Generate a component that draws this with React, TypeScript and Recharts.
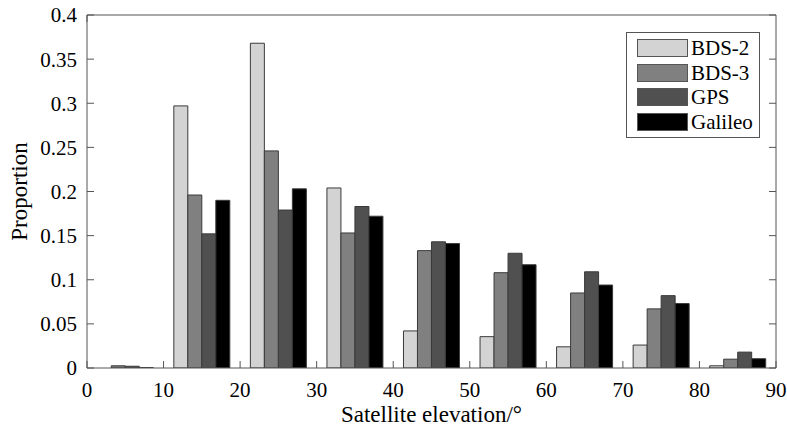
import { BarChart, Bar, XAxis, YAxis, Legend, Label } from 'recharts'

// 仰角区間の中心 (°)
const elevations = [5, 15, 25, 35, 45, 55, 65, 75, 85]

// 各システムの割合
const bds2 = [0, 0.297, 0.368, 0.204, 0.042, 0.0355, 0.024, 0.026, 0.0025]
const bds3 = [0.0025, 0.196, 0.246, 0.153, 0.133, 0.108, 0.085, 0.067, 0.01]
const gps = [0.002, 0.152, 0.179, 0.183, 0.143, 0.13, 0.109, 0.082, 0.018]
const galileo = [0.0005, 0.19, 0.203, 0.172, 0.141, 0.117, 0.094, 0.073, 0.0105]

const xTicks = [0, 10, 20, 30, 40, 50, 60, 70, 80, 90]
const yTicks = [0, 0.05, 0.1, 0.15, 0.2, 0.25, 0.3, 0.35, 0.4]

const SERIES = [
  { key: 'BDS-2', values: bds2, color: '#d3d3d3' },
  { key: 'BDS-3', values: bds3, color: '#808080' },
  { key: 'GPS', values: gps, color: '#505050' },
  { key: 'Galileo', values: galileo, color: '#000000' },
]

const FONT = 'Liberation Serif'
const AXIS_COLOR = '#555'

const chartData = elevations.map((e, i) => {
  const row: Record<string, number> = { elevation: e }
  SERIES.forEach((s) => {
    row[s.key] = s.values[i]
  })
  return row
})

// 目盛り線だけ描く（ラベルなし）
const NoLabel = () => <g />

function LegendBox() {
  return (
    <div
      style={{
        border: `1px solid ${AXIS_COLOR}`,
        background: '#fff',
        padding: '3px 6px 3px 10px',
        fontFamily: FONT,
        fontSize: 21,
        color: '#000',
        lineHeight: '24.5px',
      }}
    >
      {SERIES.map((s) => (
        <div key={s.key} style={{ display: 'flex', alignItems: 'center', height: 24.5 }}>
          <span
            style={{
              display: 'inline-block',
              width: 49,
              height: 16,
              background: s.color,
              border: '1px solid #555',
              marginRight: 3,
            }}
          />
          <span>{s.key}</span>
        </div>
      ))}
    </div>
  )
}

export default function App() {
  return (
    <div style={{ position: 'absolute', left: 0, top: 0, background: '#fff' }}>
      <BarChart
        width={787}
        height={430}
        data={chartData}
        margin={{ top: 14, right: 10, bottom: 0, left: 0 }}
        barCategoryGap="13.4%"
        barGap={0}
      >
        <XAxis
          dataKey="elevation"
          type="number"
          domain={[0, 90]}
          ticks={xTicks}
          height={62}
          stroke={AXIS_COLOR}
          tickSize={-7}
          tickMargin={21}
          tick={{ fill: '#000', fontSize: 21, fontFamily: FONT }}
          allowDataOverflow
        >
          <Label
            value="Satellite elevation/°"
            position="insideBottom"
            offset={8}
            style={{ fill: '#000', fontSize: 23, fontFamily: FONT }}
          />
        </XAxis>
        <XAxis
          xAxisId="top"
          orientation="top"
          type="number"
          domain={[0, 90]}
          ticks={xTicks}
          height={1}
          stroke={AXIS_COLOR}
          tickSize={-7}
          tick={NoLabel}
          allowDataOverflow
        />
        <YAxis
          type="number"
          domain={[0, 0.4]}
          ticks={yTicks}
          width={87}
          stroke={AXIS_COLOR}
          tickSize={-7}
          tickMargin={17}
          tick={{ fill: '#000', fontSize: 21, fontFamily: FONT }}
          allowDataOverflow
        >
          <Label
            value="Proportion"
            angle={-90}
            position="center"
            dx={-25}
            style={{ fill: '#000', fontSize: 23, fontFamily: FONT, textAnchor: 'middle' }}
          />
        </YAxis>
        <YAxis
          yAxisId="right"
          orientation="right"
          type="number"
          domain={[0, 0.4]}
          ticks={yTicks}
          width={1}
          stroke={AXIS_COLOR}
          tickSize={-7}
          tick={NoLabel}
          allowDataOverflow
        />
        <Legend
          layout="vertical"
          align="center"
          verticalAlign="middle"
          content={() => <LegendBox />}
          wrapperStyle={{ position: 'absolute', left: 626, top: 32, width: 'auto' }}
        />
        {SERIES.map((s) => (
          <Bar
            key={s.key}
            dataKey={s.key}
            fill={s.color}
            stroke="#3a3a3a"
            strokeWidth={1}
            isAnimationActive={false}
          />
        ))}
      </BarChart>
    </div>
  )
}
